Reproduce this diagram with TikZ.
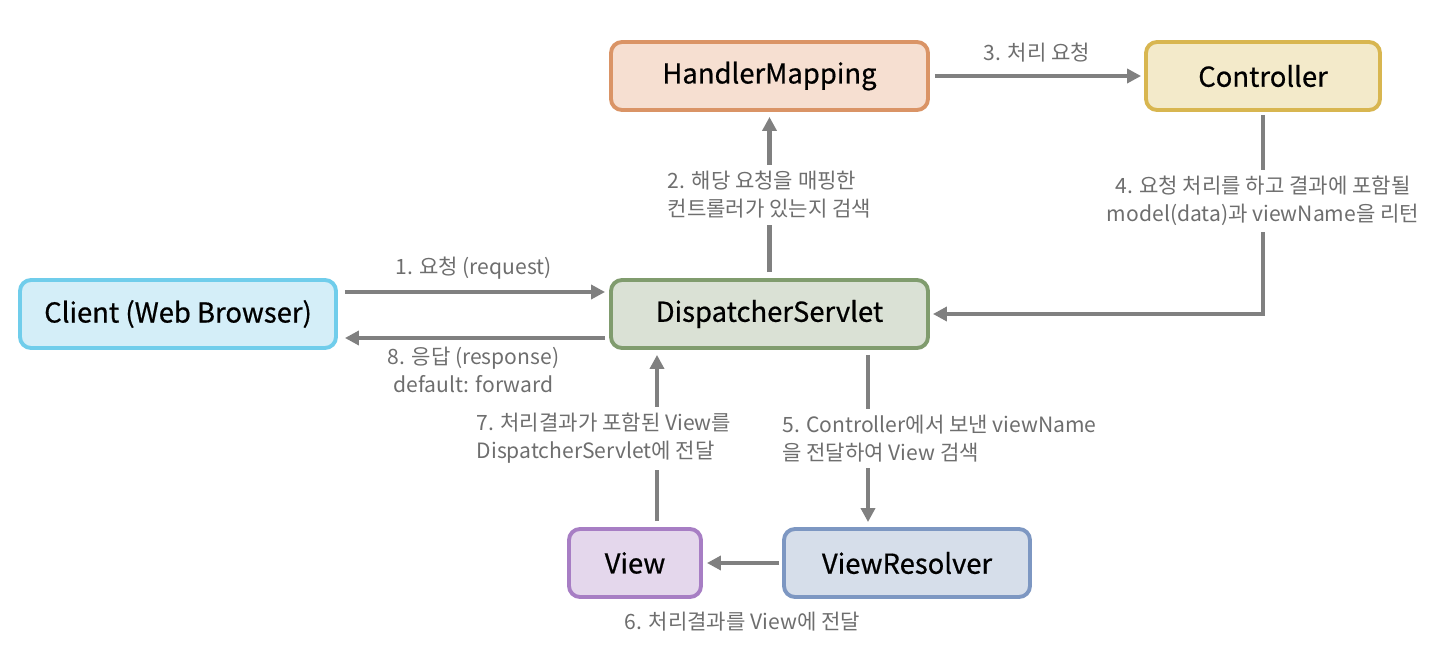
\documentclass[tikz,border=0pt]{standalone}
\usepackage{fontspec}
\setmainfont{Noto Sans CJK KR}
\newfontfamily\boxfont{Noto Sans CJK KR}[FakeBold=0.6]
\usetikzlibrary{positioning,arrows.meta,calc}

\definecolor{hmfill}{HTML}{F6DFD1}\definecolor{hmline}{HTML}{DA9466}
\definecolor{ctfill}{HTML}{F3EACA}\definecolor{ctline}{HTML}{D8B650}
\definecolor{clfill}{HTML}{D4EEF8}\definecolor{clline}{HTML}{70CDEB}
\definecolor{dsfill}{HTML}{DAE1D5}\definecolor{dsline}{HTML}{809C6E}
\definecolor{vwfill}{HTML}{E4D7EC}\definecolor{vwline}{HTML}{A77EC4}
\definecolor{vrfill}{HTML}{D6DEEA}\definecolor{vrline}{HTML}{7D97C2}
\definecolor{linegray}{HTML}{808080}
\definecolor{labgray}{HTML}{6E6E6E}

\begin{document}
\begin{tikzpicture}[
  font=\fontsize{12}{15.9}\selectfont,
  box/.style  = {draw, line width=2.2pt, rounded corners=2.2mm, align=center,
                 minimum height=13.6mm, inner sep=1mm, text=black,
                 font=\boxfont\fontsize{15.6}{18}\selectfont},
  tag/.style  = {text=labgray, align=center, inner sep=1mm},
  lab/.style  = {tag, fill=white, inner sep=1.2mm},
  arr/.style  = {-{Triangle[length=2.8mm,width=2.8mm]}, line width=2.6pt, linegray}]

\useasboundingbox (0,0) rectangle (28.7,-13.08);

% top row
\node[box, fill=hmfill, draw=hmline, minimum width=63.4mm] (hm) at (15.39,-1.52) {HandlerMapping};
\node[box, fill=ctfill, draw=ctline, minimum width=46.8mm] (ct) at (25.26,-1.52) {Controller};

% middle row
\node[box, fill=clfill, draw=clline, minimum width=63.2mm] (cl) at (3.56,-6.28) {Client (Web Browser)};
\node[box, fill=dsfill, draw=dsline, minimum width=63.4mm] (ds) at (15.39,-6.28) {DispatcherServlet};

% bottom row
\node[box, fill=vwfill, draw=vwline, minimum width=26.4mm] (vw) at (12.70,-11.26) {View};
\node[box, fill=vrfill, draw=vrline, minimum width=49.2mm] (vr) at (18.14,-11.26) {ViewResolver};

% request / response
\draw[arr, shorten <=1.4mm, shorten >=0.8mm] ([yshift=4.4mm]cl.east) -- ([yshift=4.4mm]ds.west)
  node[tag, midway, above=1.0mm] {1. 요청 (request)};
\draw[arr, shorten <=0.8mm, shorten >=1.4mm] ([yshift=-4.8mm]ds.west) -- ([yshift=-4.8mm]cl.east)
  node[tag, midway, below=0.4mm] {8. 응답 (response)\\default: forward};

% mapping and controller
\draw[arr, shorten <=1.2mm, shorten >=1mm] (ds.north) -- (hm.south)
  node[lab, midway, align=left] {2. 해당 요청을 매핑한\\컨트롤러가 있는지 검색};
\draw[arr, shorten <=1mm, shorten >=0.6mm] (hm.east) -- (ct.west)
  node[tag, midway, above=1.4mm] {3. 처리 요청};
\draw[arr, shorten <=0.6mm, shorten >=0.6mm] (ct.south) |- (ds.east)
  node[lab, pos=0.22] {4. 요청 처리를 하고 결과에 포함될\\model(data)과 viewName을 리턴};

% view resolution
\draw[arr, shorten <=1mm, shorten >=1mm] ([xshift=19.7mm]ds.south) -- ([xshift=19.7mm]ds.south |- vr.north)
  node[lab, midway, align=left, anchor=west, xshift=-18.8mm] {5. Controller에서 보낸 viewName\\을 전달하여 View 검색};
\draw[arr, shorten <=0.6mm, shorten >=0.8mm] (vr.west) -- (vw.west -| vw.east)
  node[tag, midway, below=8.4mm] {6. 처리결과를 View에 전달};
\draw[arr, shorten <=1.2mm, shorten >=1mm] ([xshift=4.4mm]vw.north) -- ([xshift=4.4mm]vw.north |- ds.south)
  node[lab, midway, align=left, xshift=-10.6mm] {7. 처리결과가 포함된 View를\\DispatcherServlet에 전달};

\end{tikzpicture}
\end{document}
